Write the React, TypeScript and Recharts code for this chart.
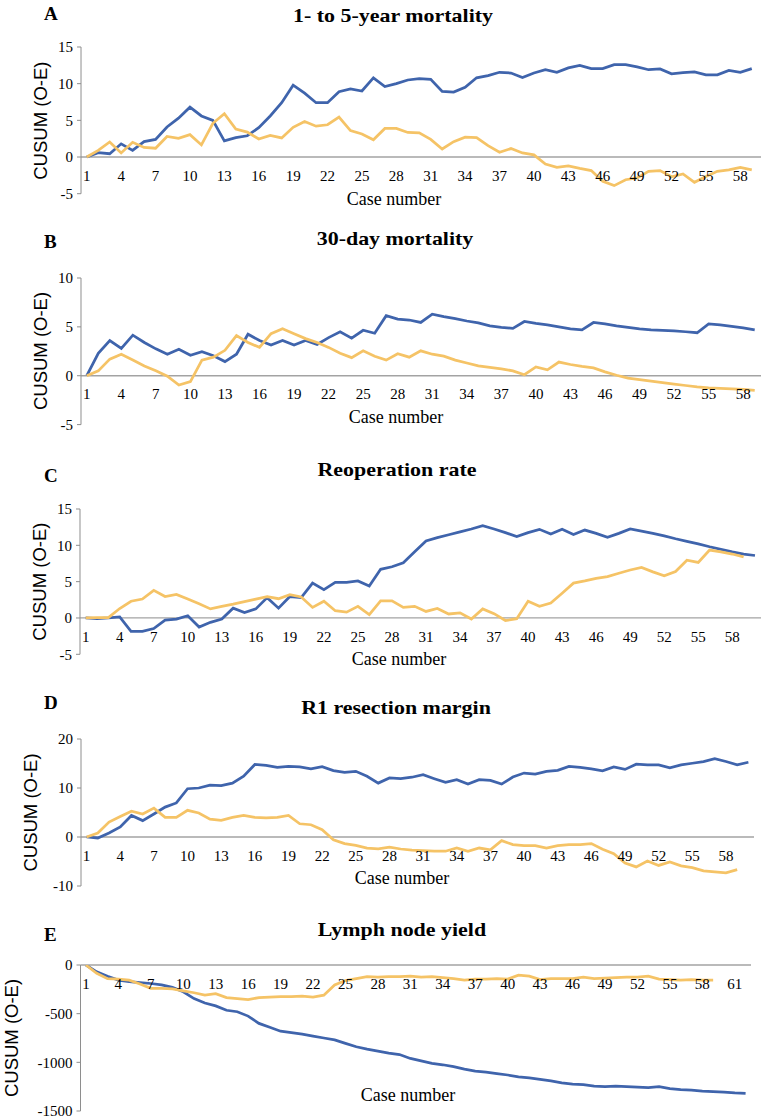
import React from 'react';
import { LineChart, Line, XAxis, YAxis, ReferenceLine, ReferenceDot } from 'recharts';

// ---------- DATA ----------
const xTicksA = [1, 4, 7, 10, 13, 16, 19, 22, 25, 28, 31, 34, 37, 40, 43, 46, 49, 52, 55, 58];
const xTicksE = [1, 4, 7, 10, 13, 16, 19, 22, 25, 28, 31, 34, 37, 40, 43, 46, 49, 52, 55, 58, 61];

const yTicksA = [-5, 0, 5, 10, 15];
const yTicksB = [-5, 0, 5, 10];
const yTicksC = [-5, 0, 5, 10, 15];
const yTicksD = [-10, 0, 10, 20];
const yTicksE = [-1500, -1000, -500, 0];

const mortality5yBlue = [0, 0.6, 0.45, 1.8, 0.9, 2.1, 2.4, 4.1, 5.3, 6.8, 5.6, 5.0, 2.2, 2.65, 2.9, 4.0, 5.6, 7.4, 9.8, 8.7, 7.4, 7.4, 8.9, 9.3, 9.0, 10.8, 9.6, 10.0, 10.5, 10.7, 10.6, 8.95, 8.85, 9.5, 10.8, 11.1, 11.55, 11.45, 10.85, 11.45, 11.9, 11.55, 12.15, 12.5, 12.05, 12.05, 12.6, 12.6, 12.3, 11.9, 12.0, 11.35, 11.5, 11.6, 11.2, 11.2, 11.8, 11.55, 12.05];
const mortality5yYellow = [0, 0.9, 2.05, 0.55, 2.0, 1.3, 1.2, 2.8, 2.55, 3.05, 1.65, 4.6, 5.9, 3.8, 3.4, 2.45, 2.95, 2.6, 4.05, 4.85, 4.2, 4.4, 5.45, 3.6, 3.15, 2.35, 3.9, 3.9, 3.35, 3.3, 2.4, 1.1, 2.1, 2.7, 2.65, 1.55, 0.65, 1.15, 0.55, 0.3, -0.95, -1.4, -1.2, -1.55, -1.85, -3.3, -3.9, -3.1, -2.85, -1.95, -1.85, -2.7, -2.3, -3.45, -2.65, -1.95, -1.75, -1.4, -1.75];

const mortality30dBlue = [0, 2.3, 3.6, 2.8, 4.15, 3.4, 2.75, 2.2, 2.7, 2.1, 2.45, 2.05, 1.45, 2.2, 4.25, 3.6, 3.15, 3.6, 3.15, 3.6, 3.2, 3.9, 4.5, 3.85, 4.65, 4.35, 6.15, 5.8, 5.7, 5.45, 6.3, 6.05, 5.85, 5.6, 5.4, 5.1, 4.95, 4.85, 5.55, 5.35, 5.2, 5.0, 4.8, 4.7, 5.45, 5.3, 5.1, 4.95, 4.8, 4.7, 4.65, 4.6, 4.5, 4.4, 5.3, 5.2, 5.05, 4.9, 4.7];
const mortality30dYellow = [0, 0.5, 1.7, 2.2, 1.6, 1.0, 0.5, -0.05, -0.95, -0.6, 1.6, 1.9, 2.6, 4.1, 3.4, 2.9, 4.3, 4.8, 4.3, 3.8, 3.4, 2.9, 2.3, 1.85, 2.55, 2.0, 1.6, 2.25, 1.9, 2.55, 2.2, 2.0, 1.6, 1.3, 1.0, 0.85, 0.7, 0.5, 0.1, 0.9, 0.6, 1.4, 1.15, 0.95, 0.8, 0.4, 0.05, -0.25, -0.4, -0.55, -0.7, -0.85, -1.0, -1.15, -1.25, -1.3, -1.35, -1.4, -1.5];

const reoperationBlue = [0, -0.1, 0, 0.15, -1.85, -1.85, -1.45, -0.3, -0.15, 0.3, -1.25, -0.6, -0.15, 1.35, 0.75, 1.25, 2.8, 1.35, 2.95, 2.8, 4.8, 3.9, 4.9, 4.9, 5.1, 4.4, 6.7, 7.05, 7.6, 9.1, 10.6, 11.05, 11.45, 11.85, 12.25, 12.7, 12.25, 11.75, 11.2, 11.75, 12.2, 11.55, 12.2, 11.5, 12.1, 11.65, 11.1, 11.65, 12.25, 11.95, 11.65, 11.3, 10.9, 10.55, 10.2, 9.8, 9.45, 9.1, 8.8, 8.6];
const reoperationYellow = [0, 0.05, 0.05, 1.3, 2.3, 2.6, 3.8, 2.95, 3.25, 2.6, 1.95, 1.25, 1.6, 1.9, 2.25, 2.6, 2.95, 2.65, 3.2, 2.9, 1.45, 2.3, 1.0, 0.8, 1.6, 0.45, 2.35, 2.35, 1.45, 1.6, 0.9, 1.3, 0.55, 0.7, -0.15, 1.25, 0.6, -0.35, -0.1, 2.3, 1.6, 2.05, 3.4, 4.8, 5.1, 5.45, 5.7, 6.15, 6.6, 6.95, 6.35, 5.8, 6.4, 7.95, 7.65, 9.35, 9.1, 8.8, 8.4];

const r1MarginBlue = [0, -0.2, 0.8, 2.05, 4.4, 3.35, 4.7, 6.1, 6.95, 9.85, 10.0, 10.6, 10.5, 11.0, 12.4, 14.8, 14.6, 14.2, 14.4, 14.3, 13.9, 14.35, 13.55, 13.2, 13.4, 12.4, 11.0, 12.05, 11.9, 12.2, 12.7, 11.9, 11.15, 11.7, 10.8, 11.7, 11.55, 10.8, 12.25, 13.05, 12.85, 13.4, 13.6, 14.4, 14.2, 13.9, 13.5, 14.3, 13.8, 14.85, 14.7, 14.7, 14.1, 14.7, 15.05, 15.4, 16.0, 15.4, 14.75, 15.25];
const r1MarginYellow = [0, 0.8, 3.05, 4.2, 5.25, 4.7, 5.9, 4.0, 4.0, 5.45, 4.9, 3.65, 3.4, 4.0, 4.4, 4.0, 3.9, 4.0, 4.4, 2.7, 2.5, 1.5, -0.55, -1.35, -1.7, -2.25, -2.4, -2.05, -2.45, -2.7, -2.8, -2.9, -2.9, -2.25, -2.9, -2.25, -2.6, -0.75, -1.55, -1.75, -1.75, -2.25, -1.75, -1.55, -1.55, -1.35, -2.5, -3.4, -5.3, -6.1, -4.9, -5.8, -5.1, -5.9, -6.25, -6.9, -7.1, -7.3, -6.65];

const lymphBlue = [0, -70, -115, -155, -170, -180, -190, -205, -230, -275, -345, -390, -420, -465, -480, -525, -600, -640, -680, -695, -710, -730, -750, -770, -805, -840, -865, -885, -905, -920, -960, -985, -1010, -1025, -1045, -1070, -1090, -1100, -1115, -1130, -1150, -1160, -1175, -1190, -1210, -1225, -1230, -1245, -1250, -1245, -1250, -1255, -1260, -1250, -1270, -1280, -1285, -1295, -1300, -1305, -1315, -1320];
const lymphYellow = [0, -85, -140, -145, -155, -195, -240, -240, -245, -265, -285, -310, -295, -335, -345, -355, -335, -330, -325, -325, -320, -330, -310, -205, -160, -140, -120, -125, -120, -120, -115, -125, -120, -130, -140, -155, -145, -145, -140, -145, -105, -115, -150, -140, -140, -140, -125, -140, -135, -130, -125, -125, -115, -145, -150, -155, -150, -155, -155];

// ---------- STYLE ----------
const BLUE = '#3F64AC';
const YELLOW = '#F5C366';
const SERIF = "'Liberation Serif', 'Times New Roman', serif";
const SANS = "'Liberation Sans', Arial, sans-serif";
const TICK_FONT = 15;

function buildRows(blue: number[], yellow: number[]) {
  const n = Math.max(blue.length, yellow.length);
  const rows: { case: number; blue?: number; yellow?: number }[] = [];
  for (let i = 0; i < n; i++) {
    rows.push({ case: i + 1, blue: blue[i], yellow: yellow[i] });
  }
  return rows;
}

type Panel = {
  letter: string;
  title: string;
  blue: number[];
  yellow: number[];
  yTicks: number[];
  xTicks: number[];
  nCats: number;
  axisX: number;
  plotTop: number;
  plotBottom: number;
  plotRight: number;
  letterBase: number;
  titleX: number;
  titleBase: number;
  caseX: number;
  caseBase: number;
  yLabelX: number;
};

const panels: Panel[] = [
  { letter: 'A', title: '1- to 5-year mortality', blue: mortality5yBlue, yellow: mortality5yYellow, yTicks: yTicksA, xTicks: xTicksA, nCats: 60, axisX: 81, plotTop: 47.3, plotBottom: 194, plotRight: 769, letterBase: 20, titleX: 393, titleBase: 22, caseX: 394, caseBase: 205, yLabelX: 40 },
  { letter: 'B', title: '30-day mortality', blue: mortality30dBlue, yellow: mortality30dYellow, yTicks: yTicksB, xTicks: xTicksA, nCats: 60, axisX: 81, plotTop: 277.7, plotBottom: 424.3, plotRight: 772, letterBase: 248, titleX: 395, titleBase: 245, caseX: 396, caseBase: 423, yLabelX: 40 },
  { letter: 'C', title: 'Reoperation rate', blue: reoperationBlue, yellow: reoperationYellow, yTicks: yTicksC, xTicks: xTicksA, nCats: 61, axisX: 80, plotTop: 509, plotBottom: 654.3, plotRight: 772, letterBase: 482, titleX: 397, titleBase: 476, caseX: 399, caseBase: 665, yLabelX: 39 },
  { letter: 'D', title: 'R1 resection margin', blue: r1MarginBlue, yellow: r1MarginYellow, yTicks: yTicksD, xTicks: xTicksA, nCats: 60, axisX: 81, plotTop: 739, plotBottom: 886, plotRight: 754, letterBase: 709, titleX: 396, titleBase: 714, caseX: 402, caseBase: 884, yLabelX: 30 },
  { letter: 'E', title: 'Lymph node yield', blue: lymphBlue, yellow: lymphYellow, yTicks: yTicksE, xTicks: xTicksE, nCats: 62, axisX: 80.5, plotTop: 965, plotBottom: 1111, plotRight: 751, letterBase: 941, titleX: 402, titleBase: 936, caseX: 408, caseBase: 1101, yLabelX: 11 },
];

function PanelChart({ p }: { p: Panel }) {
  const rows = buildRows(p.blue, p.yellow);
  const pad = 10;
  const chartW = Math.ceil(p.plotRight) + 4;
  const chartH = p.plotBottom - p.plotTop + pad * 2;
  const yMin = p.yTicks[0];
  const yMax = p.yTicks[p.yTicks.length - 1];
  return (
    <div style={{ position: 'absolute', left: 0, top: p.plotTop - pad }}>
      <LineChart
        width={chartW}
        height={chartH}
        data={rows}
        margin={{ top: pad, bottom: pad, left: 0, right: chartW - p.plotRight }}
      >
        <XAxis type="number" dataKey="case" domain={[0.5, p.nCats + 0.5]} hide allowDataOverflow />
        <YAxis
          type="number"
          domain={[yMin, yMax]}
          ticks={p.yTicks}
          interval={0}
          width={p.axisX}
          allowDataOverflow
          axisLine={{ stroke: '#8E8E8E', strokeWidth: 1 }}
          tickLine={{ stroke: '#8E8E8E', strokeWidth: 1 }}
          tickSize={4}
          tickMargin={4}
          tick={{ fill: '#000', fontSize: TICK_FONT, fontFamily: SERIF }}
        />
        <ReferenceLine y={0} stroke="#A3A3A3" strokeWidth={1.3} ifOverflow="visible" />
        {p.xTicks.map((t) => (
          <ReferenceDot
            key={t}
            x={t}
            y={0}
            r={0}
            fill="none"
            stroke="none"
            ifOverflow="visible"
            label={{ value: String(t), position: 'bottom', offset: 13, fill: '#000', fontSize: TICK_FONT, fontFamily: SERIF }}
          />
        ))}
        <Line type="linear" dataKey="blue" stroke={BLUE} strokeWidth={2.75} dot={false} activeDot={false} isAnimationActive={false} />
        <Line type="linear" dataKey="yellow" stroke={YELLOW} strokeWidth={2.75} dot={false} activeDot={false} isAnimationActive={false} />
      </LineChart>
    </div>
  );
}

export default function App() {
  return (
    <div style={{ position: 'absolute', left: 0, top: 0, width: 761, height: 1120, overflow: 'hidden', background: '#fff' }}>
      {panels.map((p) => (
        <PanelChart key={p.letter} p={p} />
      ))}
      <svg width={761} height={1120} style={{ position: 'absolute', left: 0, top: 0, pointerEvents: 'none' }}>
        {panels.map((p) => (
          <g key={p.letter}>
            <text x={44} y={p.letterBase} fontFamily={SERIF} fontWeight="bold" fontSize={19} fill="#000">{p.letter}</text>
            <text
              transform={`translate(${p.titleX},${p.titleBase}) scale(1.22,1)`}
              textAnchor="middle"
              fontFamily={SERIF}
              fontWeight="bold"
              fontSize={18}
              fill="#000"
            >
              {p.title}
            </text>
            <text x={p.caseX} y={p.caseBase} textAnchor="middle" fontFamily={SERIF} fontSize={18} fill="#000">Case number</text>
            <text
              transform={`translate(${p.yLabelX},${(p.plotTop + p.plotBottom) / 2}) rotate(-90)`}
              textAnchor="middle"
              dominantBaseline="central"
              fontFamily={SANS}
              fontSize={18.5}
              fill="#000"
            >
              CUSUM (O-E)
            </text>
          </g>
        ))}
      </svg>
    </div>
  );
}
